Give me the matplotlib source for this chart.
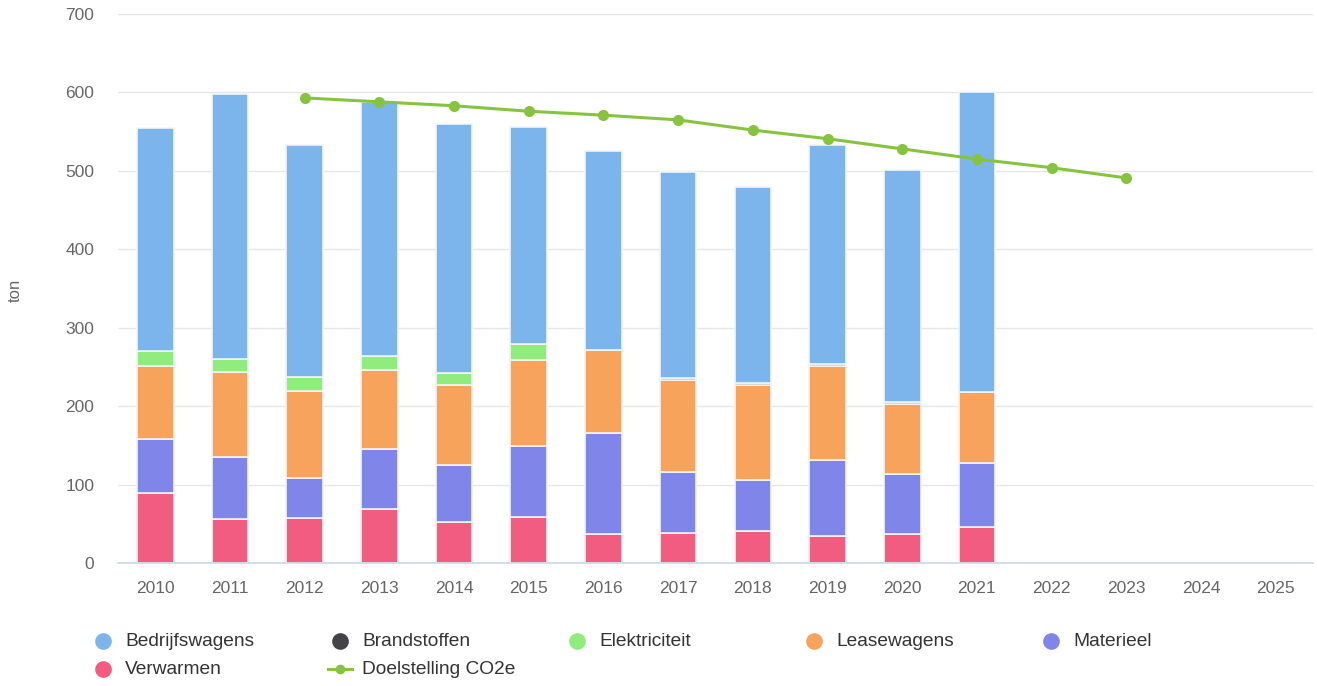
import numpy as np
from matplotlib import pyplot as plt
from matplotlib.lines import Line2D

plt.rcParams['font.family'] = ['Liberation Sans', 'DejaVu Sans']

years = [str(y) for y in range(2010, 2026)]
bar_years = years[:12]

bedrijfswagens = [285, 338, 296, 324, 318, 277, 253, 262, 250, 279, 296, 383]
brandstoffen = [0, 0, 0, 0, 0, 0, 0, 3, 2, 3, 2, 0]
elektriciteit = [19, 16, 18, 18, 15, 20, 0, 0, 0, 0, 0, 0]
leasewagens = [93, 109, 111, 101, 102, 110, 106, 117, 121, 120, 90, 90]
materieel = [69, 79, 51, 76, 73, 90, 129, 78, 65, 97, 76, 82]
verwarmen = [89, 56, 57, 69, 52, 59, 37, 38, 41, 34, 37, 46]

doel_years = years[2:14]
doelstelling = [593, 588, 583, 576, 571, 565, 552, 541, 528, 515, 504, 491]

names = ['Bedrijfswagens', 'Brandstoffen', 'Elektriciteit', 'Leasewagens', 'Materieel', 'Verwarmen']
series = [bedrijfswagens, brandstoffen, elektriciteit, leasewagens, materieel, verwarmen]
colors = ['#7cb5ec', '#434348', '#90ed7d', '#f7a35c', '#8085e9', '#f15c80']
line_color = '#86c440'

fig = plt.figure(figsize=(13.17, 6.86), dpi=100)
ax = fig.add_axes([118 / 1317, 123 / 686, 1195 / 1317, 549 / 686])

x_all = np.arange(len(years))
xb = np.arange(len(bar_years))

# highcharts stacks the first series on top
bottom = np.zeros(len(bar_years))
for name, vals, col in reversed(list(zip(names, series, colors))):
    v = np.array(vals, dtype=float)
    ax.bar(xb, v, width=0.49, bottom=bottom, color=col, edgecolor='#f4f4f4',
           linewidth=1.2, zorder=2)
    bottom += v

xd = np.array([years.index(y) for y in doel_years])
ax.plot(xd, doelstelling, color=line_color, linewidth=2.2, marker='o',
        markersize=8, markeredgewidth=0, zorder=4)

ax.set_xlim(-0.5, len(years) - 0.5)
ax.set_ylim(0, 700)
ax.set_xticks(x_all)
ax.set_xticklabels(years)
ax.set_yticks(range(0, 701, 100))
ax.tick_params(axis='both', length=0, labelsize=12.5, labelcolor='#666666')
ax.tick_params(axis='x', pad=13)
ax.tick_params(axis='y', pad=17)
ax.grid(axis='y', color='#e6e6e6', linewidth=1, zorder=0)
ax.set_axisbelow(True)
for s in ['top', 'right', 'left']:
    ax.spines[s].set_visible(False)
ax.spines['bottom'].set_color('#ccd6eb')
ax.spines['bottom'].set_linewidth(1.2)

fig.text(15 / 1317, 1 - 290 / 686, 'ton', rotation=90, ha='center', va='center',
         fontsize=12, color='#666666')

# legend, laid out in rows like the original
leg_items = list(zip(names, colors)) + [('Doelstelling CO2e', line_color)]
for i, (name, col) in enumerate(leg_items):
    row, c = divmod(i, 5)
    mx = (103 + c * 237) / 1317
    my = 1 - (641 + row * 28) / 686
    if name.startswith('Doel'):
        fig.add_artist(Line2D([mx - 0.009, mx + 0.009], [my, my], color=col,
                              linewidth=2.2, transform=fig.transFigure))
        fig.add_artist(Line2D([mx], [my], marker='o', markersize=7, color=col,
                              markeredgewidth=0, transform=fig.transFigure))
    else:
        fig.add_artist(Line2D([mx], [my], marker='o', markersize=12, color=col,
                              markeredgewidth=0, linestyle='none',
                              transform=fig.transFigure))
    fig.text(mx + 22 / 1317, my, name, ha='left', va='center', fontsize=13.8,
             color='#333333')

fig.savefig('out.png', dpi=100)
